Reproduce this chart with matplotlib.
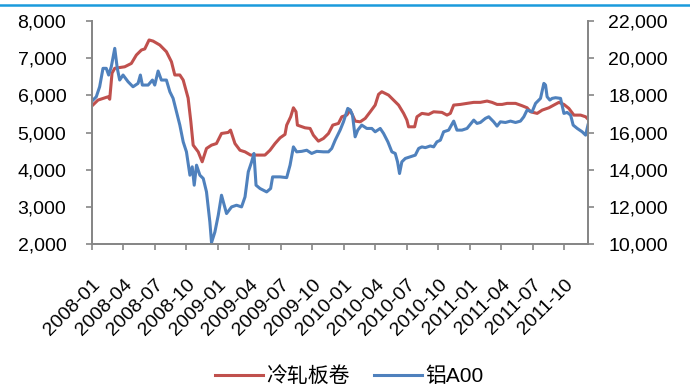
import numpy as np
import matplotlib
matplotlib.use("Agg")
import matplotlib.pyplot as plt
from matplotlib.lines import Line2D
from matplotlib.ticker import FuncFormatter
from matplotlib.transforms import ScaledTranslation

plt.rcParams['font.family'] = ['Liberation Sans', 'Noto Sans CJK SC', 'DejaVu Sans']

# x = months since 2008-01
red_t = [0, 0.57, 1.53, 1.69, 1.91, 2.17, 3.12, 3.75, 4.23, 4.71, 5.03, 5.44, 5.82, 6.46, 7.09,
         7.57, 7.89, 8.37, 8.69, 9.16, 9.42, 9.64, 10.12, 10.5, 10.91, 11.39, 11.86, 12.34, 12.98,
         13.2, 13.62, 14.1, 14.58, 15.11, 15.68, 16.48, 16.96, 17.44, 17.92, 18.39, 18.55, 18.93,
         19.19, 19.44, 19.57, 20.3, 20.78, 21.09, 21.57, 22.05, 22.53, 22.94, 23.48, 23.8, 24.27,
         24.6, 25.08, 25.55, 26.03, 26.51, 26.98, 27.3, 27.61, 28.25, 28.73, 29.21, 29.69, 30.0,
         30.16, 30.74, 30.96, 31.43, 32.07, 32.55, 33.34, 33.82, 34.14, 34.46, 35.1, 35.73, 36.37,
         37.0, 37.64, 38.11, 38.59, 39.07, 39.55, 40.35, 40.98, 41.45, 41.78, 42.41, 42.89, 43.53,
         44.0, 44.48, 44.96, 45.43, 45.91, 46.55, 47.03, 47.25]
red_v = [5720, 5876, 5965, 5900, 6600, 6730, 6770, 6860, 7086, 7220, 7250, 7490, 7460, 7355, 7175,
         6906, 6550, 6550, 6414, 5930, 5293, 4667, 4487, 4220, 4578, 4667, 4710, 4980, 5008,
         5070, 4710, 4530, 4487, 4400, 4400, 4400, 4530, 4710, 4863, 4955, 5204, 5428,
         5670, 5562, 5204, 5132, 5115, 4935, 4774, 4846, 4980, 5204, 5250, 5428, 5473,
         5607, 5312, 5293, 5384, 5562, 5742, 6030, 6100, 6011, 5876, 5742, 5519, 5339,
         5159, 5159, 5428, 5519, 5492, 5562, 5546, 5473, 5519, 5742, 5760, 5788, 5815,
         5815, 5850, 5815, 5760, 5760, 5788, 5788, 5724, 5670, 5562, 5519, 5607, 5670,
         5742, 5815, 5760, 5653, 5473, 5473, 5428, 5366]

blue_t = [0, 0.41, 0.73, 1.05, 1.36, 1.59, 1.84, 2.17, 2.41, 2.64, 2.96, 3.44, 3.91, 4.39, 4.61,
          4.8, 5.35, 5.76, 5.98, 6.3, 6.61, 7.09, 7.42, 7.73, 8.05, 8.37, 8.69, 9.0, 9.33, 9.55,
          9.74, 9.96, 10.28, 10.6, 10.91, 11.23, 11.39, 11.71, 12.03, 12.34, 12.82, 13.3, 13.77,
          14.25, 14.58, 14.89, 15.21, 15.43, 15.63, 16.01, 16.64, 17.02, 17.21, 17.92, 18.55,
          18.87, 19.19, 19.5, 19.98, 20.46, 20.93, 21.41, 22.05, 22.53, 22.84, 23.17, 23.64,
          23.96, 24.37, 24.6, 24.82, 25.07, 25.32, 25.7, 26.18, 26.66, 26.98, 27.46, 27.78,
          28.19, 28.57, 28.89, 29.11, 29.3, 29.52, 29.85, 30.32, 30.8, 31.12, 31.43, 31.76,
          32.23, 32.55, 32.86, 33.19, 33.5, 33.98, 34.46, 34.77, 35.25, 35.73, 36.37, 36.68,
          37.0, 37.48, 37.8, 38.27, 38.59, 38.91, 39.39, 39.87, 40.35, 40.82, 41.14, 41.45,
          41.93, 42.26, 42.73, 43.05, 43.21, 43.36, 43.62, 43.84, 44.16, 44.64, 44.96, 45.27,
          45.6, 45.84, 46.23, 46.7, 47.03, 47.25]
blue_v = [17700, 17930, 18468, 19457, 19457, 19097, 19543, 20530, 19457, 18828, 19097, 18737,
          18468, 18650, 19097, 18559, 18559, 18828, 18559, 19312, 18828, 18828, 18200, 17844,
          17124, 16410, 15510, 14974, 13720, 14170, 13183, 14258, 13720, 13543, 12823, 11210,
          10100, 10672, 11570, 12645, 11660, 12017, 12108, 12017, 12555, 13900, 14437, 14887,
          13183, 13005, 12823, 13005, 13630, 13630, 13590, 14258, 15240, 14974, 15000, 15060,
          14887, 15000, 14974, 14974, 15155, 15600, 16140, 16586, 17306, 17220, 16946, 15780,
          16140, 16410, 16230, 16230, 16050, 16230, 15960, 15510, 14974, 14887, 14437, 13810,
          14437, 14620, 14706, 14796, 15155, 15240, 15200, 15290, 15240, 15510, 15600, 16050,
          16140, 16624, 16140, 16140, 16230, 16677, 16500, 16550, 16770, 16856, 16586, 16355,
          16586, 16550, 16624, 16550, 16624, 16856, 17215, 17124, 17576, 17844, 18650, 18560,
          17930, 17753, 17844, 17880, 17844, 17038, 17090, 16946, 16410, 16230, 16050, 15870,
          16410]

tick_pos = np.arange(0, 46, 3)
tick_labels = ['2008-01', '2008-04', '2008-07', '2008-10', '2009-01', '2009-04', '2009-07',
               '2009-10', '2010-01', '2010-04', '2010-07', '2010-10', '2011-01', '2011-04',
               '2011-07', '2011-10']

gray = '#868686'
fig = plt.figure(figsize=(6.9, 3.89), dpi=100)
ax = fig.add_axes([0.1333, 0.3715, 0.7188, 0.5746])
ax2 = ax.twinx()

l1, = ax.plot(red_t, red_v, color='#C0504D', lw=2.2, label='冷轧板卷')
l2, = ax2.plot(blue_t, blue_v, color='#4F81BD', lw=2.2, label='铝A00')

ax.set_xlim(0, 47.25)
ax.set_ylim(2000, 8000)
ax2.set_ylim(10000, 22000)
ax.set_yticks(range(2000, 8001, 1000))
ax2.set_yticks(range(10000, 22001, 2000))
fmt = FuncFormatter(lambda v, p: f'{v:,.0f}')
ax.yaxis.set_major_formatter(fmt)
ax2.yaxis.set_major_formatter(fmt)

ax.set_xticks(tick_pos)
ax.set_xticklabels(tick_labels, rotation=45, ha='right', va='top', rotation_mode='anchor',
                   fontsize=14)
for lbl in ax.get_xticklabels():
    lbl.set_transform(lbl.get_transform() + ScaledTranslation(3 / 72, 0, fig.dpi_scale_trans))

ax.tick_params(axis='x', direction='out', length=4.5, width=1.2, color=gray, pad=18)
ax.tick_params(axis='y', direction='out', length=4.5, width=1.2, color=gray, pad=14,
               labelsize=14)
ax2.tick_params(axis='y', direction='out', length=4.5, width=1.2, color=gray, pad=10,
                labelsize=14)

for a in (ax, ax2):
    a.spines['top'].set_visible(False)
    for s in ('left', 'right', 'bottom'):
        a.spines[s].set_color(gray)
        a.spines[s].set_linewidth(1.3)

fig.legend([l1, l2], ['冷轧板卷', '铝A00'], loc='center', bbox_to_anchor=(0.506, 1 - 376 / 389),
           ncol=2, frameon=False, fontsize=15, handlelength=2.3, handletextpad=0.15,
           columnspacing=1.2)

# thin blue rule along the top edge
fig.add_artist(Line2D([0, 1], [0.9884, 0.9884], color='#1a9bdc', lw=1.8,
                      transform=fig.transFigure))

fig.savefig('out.png', dpi=100)
